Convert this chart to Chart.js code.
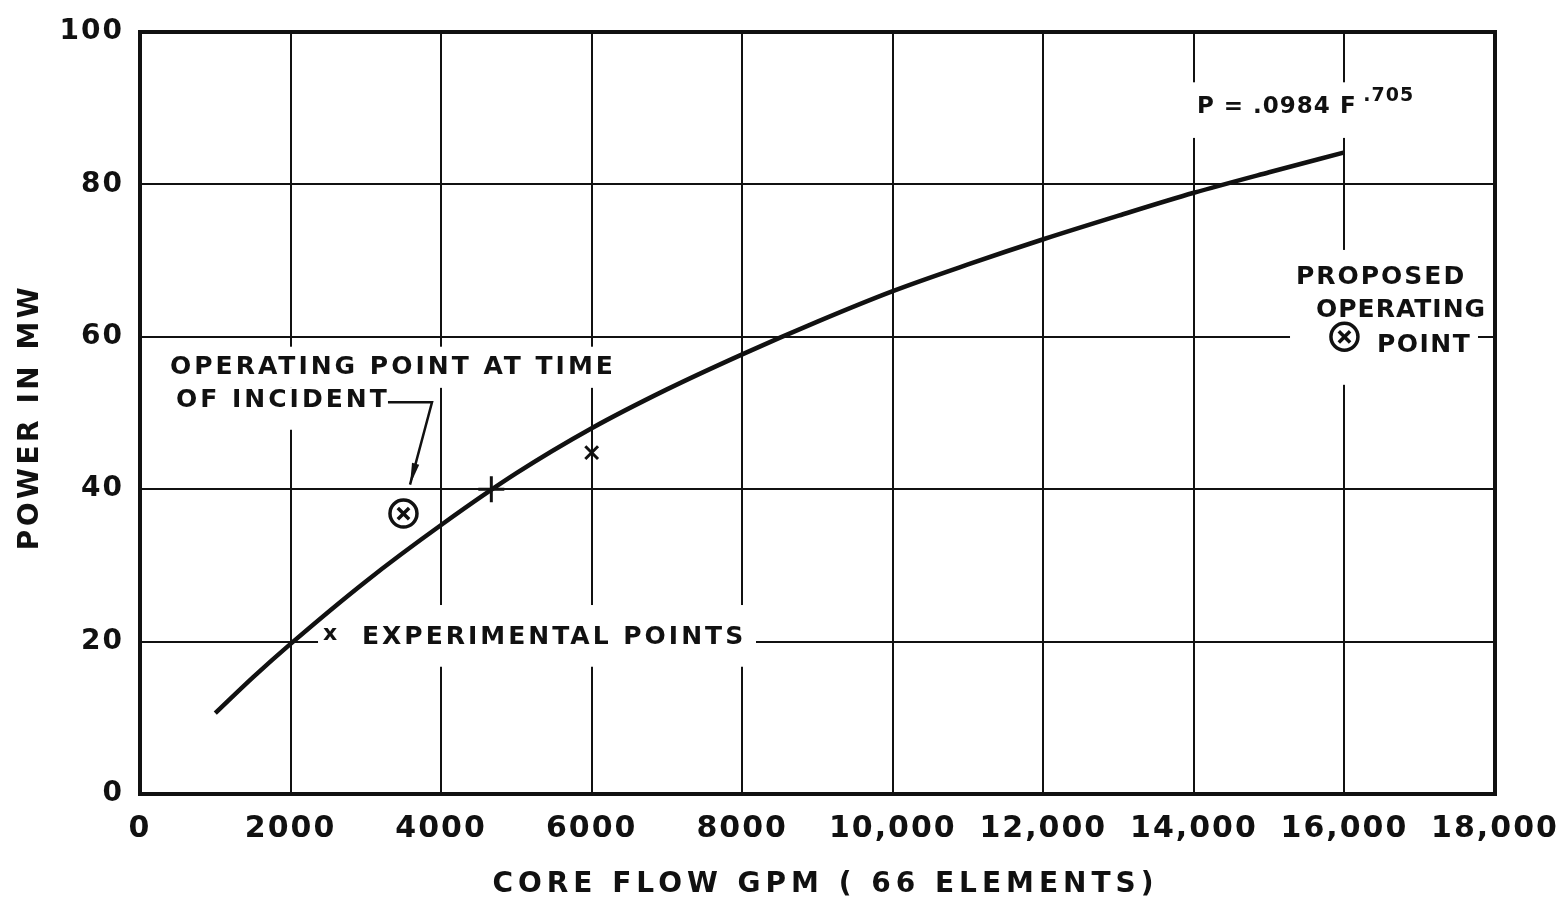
<!DOCTYPE html>
<html>
<head>
<meta charset="utf-8">
<script src="https://cdn.jsdelivr.net/npm/chart.js@4.4.1/dist/chart.umd.min.js"></script>
<style>
	html, body { margin: 0; padding: 0; background: #fff; }
	#wrap { width: 1562px; height: 911px; }
</style>
</head>
<body>
<div id="wrap"><canvas id="canvas" width="1562" height="911"></canvas></div>
<script>
// curve P = .0984 F^.705
var curveFlow = [1000, 1500, 2000, 3000, 4000, 5000, 6000, 7000, 8000, 9000, 10000, 11000, 12000, 13000, 14000, 15000, 16000];
var curvePower = [10.6, 15.3, 19.7, 27.9, 35.3, 42.1, 48, 53.1, 57.7, 62, 66, 69.5, 72.8, 75.9, 78.9, 81.6, 84.2];

// experimental points
var expFlow = [4667, 6000];
var expPower = [40, 44.8];

// operating point at time of incident
var incidentFlow = [3500];
var incidentPower = [36.8];

// proposed operating point
var proposedFlow = [16000];
var proposedPower = [60];

var xTicks = [0, 2000, 4000, 6000, 8000, 10000, 12000, 14000, 16000, 18000];
var yTicks = [0, 20, 40, 60, 80, 100];

var xTitle = 'CORE FLOW GPM ( 66 ELEMENTS)';
var yTitle = 'POWER IN MW';

// white patches where the grid is broken for lettering (data units)
var gridBreaks = [
	[266, 58.7, 6443, 53.3],
	[266, 53.3, 3387, 47.8],
	[2365, 24.8, 8183, 16.7],
	[13948, 93.4, 17070, 86.1],
	[15277, 71.4, 17774, 53.7]
];

// lettering on the plot (data units, left edge / middle)
var notes = [
	{text: 'OPERATING POINT AT TIME', x: 399, y: 56.0},
	{text: 'OF INCIDENT', x: 478, y: 51.7},
	{text: 'x', x: 2431, y: 21.0, size: 22, spacing: 0},
	{text: 'EXPERIMENTAL POINTS', x: 2949, y: 20.6},
	{text: 'P = .0984 F', x: 14041, y: 90.2, size: 23, spacing: 1},
	{text: '.705', x: 16250, y: 91.6, size: 19, spacing: 1},
	{text: 'PROPOSED', x: 15356, y: 67.8, spacing: 2},
	{text: 'OPERATING', x: 15622, y: 63.5, spacing: 1},
	{text: 'POINT', x: 16432, y: 58.9, spacing: 1.5}
];

var leaderFlow = [3294, 3879, 3587];
var leaderPower = [51.4, 51.4, 40.6];

function pairs(xs, ys){
	var out = [];
	for(var i = 0; i < xs.length; i++){
		out.push({x: xs[i], y: ys[i]});
	}
	return out;
}

var notesPlugin = {
	id: 'notes',
	beforeDraw: function(chart){
		chart.ctx.letterSpacing = '2px';
	},
	beforeDatasetsDraw: function(chart){
		var ctx = chart.ctx, xs = chart.scales.x, ys = chart.scales.y;
		ctx.save();
		ctx.fillStyle = '#fff';
		gridBreaks.forEach(function(b){
			var x1 = xs.getPixelForValue(b[0]), y1 = ys.getPixelForValue(b[1]);
			var x2 = xs.getPixelForValue(b[2]), y2 = ys.getPixelForValue(b[3]);
			ctx.fillRect(x1, y1, x2 - x1, y2 - y1);
		});
		ctx.fillStyle = '#111';
		ctx.textBaseline = 'middle';
		ctx.textAlign = 'left';
		notes.forEach(function(n){
			ctx.font = 'bold ' + (n.size || 25) + 'px "DejaVu Sans"';
			ctx.letterSpacing = (n.spacing == undefined ? 3 : n.spacing) + 'px';
			ctx.fillText(n.text, xs.getPixelForValue(n.x), ys.getPixelForValue(n.y));
		});
		// leader with arrow to the incident point
		ctx.strokeStyle = '#111';
		ctx.lineWidth = 2.5;
		ctx.beginPath();
		for(var i = 0; i < leaderFlow.length; i++){
			var px = xs.getPixelForValue(leaderFlow[i]), py = ys.getPixelForValue(leaderPower[i]);
			if (i == 0) ctx.moveTo(px, py); else ctx.lineTo(px, py);
		}
		ctx.stroke();
		var n = leaderFlow.length;
		var ax = xs.getPixelForValue(leaderFlow[n-1]), ay = ys.getPixelForValue(leaderPower[n-1]);
		var bx = xs.getPixelForValue(leaderFlow[n-2]), by = ys.getPixelForValue(leaderPower[n-2]);
		var ang = Math.atan2(ay - by, ax - bx);
		ctx.fillStyle = '#111';
		ctx.beginPath();
		ctx.moveTo(ax, ay);
		ctx.lineTo(ax - 22*Math.cos(ang - 0.17), ay - 22*Math.sin(ang - 0.17));
		ctx.lineTo(ax - 22*Math.cos(ang + 0.17), ay - 22*Math.sin(ang + 0.17));
		ctx.closePath();
		ctx.fill();
		ctx.restore();
	},
	afterDraw: function(chart){
		var ctx = chart.ctx, a = chart.chartArea;
		ctx.save();
		ctx.strokeStyle = '#111';
		ctx.lineWidth = 4;
		ctx.strokeRect(a.left, a.top, a.right - a.left, a.bottom - a.top);
		ctx.fillStyle = '#111';
		ctx.textAlign = 'center';
		ctx.textBaseline = 'middle';
		ctx.font = 'bold 28px "DejaVu Sans"';
		ctx.letterSpacing = '5px';
		ctx.fillText(xTitle, (a.left + a.right) / 2 + 8, 885);
		ctx.letterSpacing = '3.5px';
		ctx.translate(31, 417);
		ctx.rotate(-Math.PI / 2);
		ctx.fillText(yTitle, 0, 0);
		ctx.restore();
	}
};

var config = {
	type: 'scatter',
	data: {
		datasets: [
			{
				data: pairs(curveFlow, curvePower),
				showLine: true,
				borderColor: '#111',
				borderWidth: 4.5,
				pointRadius: 0,
				cubicInterpolationMode: 'monotone'
			},
			{
				data: pairs(expFlow, expPower),
				pointStyle: ['cross', 'crossRot'],
				pointRadius: [13, 9],
				borderColor: '#111',
				borderWidth: 3
			},
			{
				data: pairs(incidentFlow, incidentPower).concat(pairs(proposedFlow, proposedPower)),
				pointStyle: 'crossRot',
				pointRadius: 8,
				borderColor: '#111',
				borderWidth: 3.5
			},
			{
				data: pairs(incidentFlow, incidentPower).concat(pairs(proposedFlow, proposedPower)),
				pointStyle: 'circle',
				pointRadius: 13.5,
				borderColor: '#111',
				backgroundColor: '#fff',
				borderWidth: 3.5
			}
		]
	},
	options: {
		responsive: false,
		animation: false,
		events: [],
		layout: {padding: {left: 0, right: 67, top: 32, bottom: 0}},
		plugins: {legend: {display: false}, tooltip: {enabled: false}},
		scales: {
			x: {
				type: 'linear',
				min: 0,
				max: 18000,
				afterFit: function(s){ s.height = 117; s.paddingLeft = 0; s.paddingRight = 0; },
				afterBuildTicks: function(s){ s.ticks = xTicks.map(function(v){ return {value: v}; }); },
				border: {display: false},
				grid: {color: '#111', lineWidth: 2, drawTicks: false},
				ticks: {
					color: '#111',
					padding: 17,
					maxRotation: 0,
					font: {family: 'DejaVu Sans', size: 30, weight: 'bold'},
					callback: function(v){ return v >= 10000 ? v.toLocaleString('en-US') : String(v); }
				}
			},
			y: {
				type: 'linear',
				min: 0,
				max: 100,
				afterFit: function(s){ s.width = 140; s.paddingTop = 0; s.paddingBottom = 0; },
				afterBuildTicks: function(s){ s.ticks = yTicks.map(function(v){ return {value: v}; }); },
				border: {display: false},
				grid: {color: '#111', lineWidth: 2, drawTicks: false},
				ticks: {
					color: '#111',
					padding: 16,
					font: {family: 'DejaVu Sans', size: 28, weight: 'bold'}
				}
			}
		}
	},
	plugins: [notesPlugin]
};

var ctx = document.getElementById('canvas').getContext('2d');
window.myChart = new Chart(ctx, config);
</script>
</body>
</html>
